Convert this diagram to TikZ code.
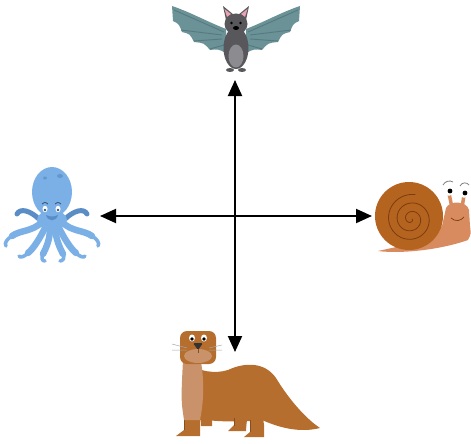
\documentclass[tikz,border=0pt]{standalone}
\usetikzlibrary{arrows.meta,calc}
\definecolor{batwing}{HTML}{6B9297}
\definecolor{batbone}{HTML}{557A7F}
\definecolor{batbody}{HTML}{58585C}
\definecolor{batbelly}{HTML}{8C8C90}
\definecolor{batear}{HTML}{EBA3B4}
\definecolor{octblue}{HTML}{7AB0E6}
\definecolor{octdark}{HTML}{5A8DC6}
\definecolor{shell}{HTML}{B4641F}
\definecolor{shellline}{HTML}{7A3C10}
\definecolor{snailbody}{HTML}{D88B5E}
\definecolor{otterbrown}{HTML}{B56E2D}
\definecolor{ottertan}{HTML}{C9926A}
\definecolor{otterline}{HTML}{8A4E1B}
\tikzset{
  link/.style={line width=2pt, -{Triangle[length=16pt,width=14pt]}},
  tentacle/.style={line width=6.5pt, line cap=round, octblue},
  tip/.style={line width=3.5pt, line cap=round, octblue},
  backtentacle/.style={line width=5pt, line cap=round, octdark},
}
\begin{document}
\begin{tikzpicture}[x=1pt,y=-1pt]
    \useasboundingbox (0,0) rectangle (471,444);

    % bat
    \begin{scope}[xshift=236pt]
        \foreach \s in {1,-1} {
            \begin{scope}[xscale=\s]
                \fill[batwing] (-10,29) .. controls (-28,22) and (-46,12) .. (-64,6) -- (-63,21) .. controls (-57,24) .. (-54,32) .. controls (-46,34) .. (-42,42) .. controls (-32,43) .. (-26,50) .. controls (-18,49) .. (-10,53) -- cycle;
                \draw[batbone, line width=0.9pt] (-12,32) -- (-62,10) (-14,35) -- (-55,30) (-14,39) -- (-42,41) (-12,45) -- (-26,49);
                \fill[batbody] (-10,20) -- (-13,6) -- (-2,15) -- cycle;
                \fill[batear] (-9,17) -- (-11.5,9) -- (-5,14) -- cycle;
                \fill[batbody] (-6,70) ellipse [x radius=4, y radius=2];
                \fill[white] (-3.5,31) -- (-1,31) -- (-2.2,35) -- cycle;
            \end{scope}
        }
        \fill[batbody] (0,48) ellipse [x radius=12.5, y radius=21];
        \fill[batbody] (0,24) ellipse [x radius=11.5, y radius=10.5];
        \fill[batbelly] (0,56) ellipse [x radius=7.5, y radius=11.5];
        \fill[black] (-4.5,23) circle (1.3) (4.5,23) circle (1.3);
        \fill[black] (0,28) ellipse [x radius=3, y radius=2];
    \end{scope}

    % octopus
    \draw[backtentacle] (40,220) .. controls (30,210) and (20,208) .. (17,214);
    \draw[backtentacle] (64,220) .. controls (74,210) and (84,208) .. (87,214);
    \draw[tentacle] (42,222) .. controls (32,232) and (20,230) .. (12,236);
    \draw[tip] (12,236) .. controls (7,239) and (4,243) .. (6,246);
    \draw[tentacle] (46,226) .. controls (40,238) and (34,248) .. (28,253);
    \draw[tip] (28,253) .. controls (24,257) and (20,258) .. (19,256);
    \draw[tentacle] (50,228) .. controls (50,240) and (46,248) .. (43,254);
    \draw[tip] (43,254) .. controls (41,258) and (42,261) .. (45,261);
    \draw[tentacle] (55,228) .. controls (56,240) and (60,248) .. (63,254);
    \draw[tip] (63,254) .. controls (65,258) and (63,261) .. (60,261);
    \draw[tentacle] (58,226) .. controls (64,238) and (70,248) .. (76,253);
    \draw[tip] (76,253) .. controls (80,257) and (84,258) .. (85,256);
    \draw[tentacle] (62,222) .. controls (72,232) and (84,230) .. (92,236);
    \draw[tip] (92,236) .. controls (97,239) and (100,243) .. (98,246);
    \fill[octblue] (52,192) ellipse [x radius=20, y radius=25];
    \fill[octblue] (52,220) ellipse [x radius=15, y radius=10];
    \fill[octdark!70!octblue] (60,176) ellipse [x radius=3, y radius=2] (45,178) ellipse [x radius=2, y radius=1.5];
    \fill[white] (45,209) ellipse [x radius=2.5, y radius=3.2] (58,209) ellipse [x radius=2.5, y radius=3.2];
    \fill[octdark!60!black] (45,210) circle (1.4) (58,210) circle (1.4);
    \draw[octdark!60!black, line width=0.8pt] (42,204) .. controls (45,202) .. (48,204) (55,204) .. controls (58,202) .. (61,204);
    \fill[octdark] (46,215) .. controls (48,222) and (56,222) .. (58,215) .. controls (54,217) and (50,217) .. (46,215) -- cycle;

    % snail
    \fill[snailbody] (378,251) .. controls (400,254) and (440,250) .. (468,240) .. controls (471,234) .. (470,226) -- (469,210) .. controls (467,201) and (450,200) .. (446,208) -- (442,226) .. controls (430,235) .. (410,244) -- cycle;
    \draw[snailbody, line width=3.5pt, line cap=round] (452,208) -- (449,193) (462,208) -- (464,195);
    \fill[white] (449,191) circle (4.8) (464,193) circle (4.8);
    \fill[black] (450,191) circle (2.4) (465,193) circle (2.4);
    \draw[gray, line width=0.8pt] (443,185) .. controls (445,181) and (450,180) .. (453,182) (460,186) .. controls (462,182) and (467,182) .. (469,185);
    \draw[shellline, line width=0.7pt] (451,218) .. controls (455,222) and (461,221) .. (464,217);
    \fill[shell] (409,216) circle (34);
    \draw[shellline, line width=0.8pt] plot[domain=0:1000, samples=120, smooth] ({411+(1+\x/42)*cos(\x)}, {219+(1+\x/42)*sin(\x)});

    % otter
    \fill[otterbrown] (236,412) -- (234,428) -- (246,428) -- (248,412) -- cycle;
    \fill[otterbrown] (228,431) -- (246,431) -- (246,425) -- (234,425) -- cycle;
    \fill[otterbrown] (200,410) -- (201,426) -- (212,426) -- (212,410) -- cycle;
    \fill[otterbrown] (184,362) .. controls (200,372) and (215,374) .. (228,370) .. controls (245,362) and (265,362) .. (276,378) .. controls (288,398) and (305,418) .. (320,428) .. controls (300,433) and (280,428) .. (262,420) .. controls (245,422) and (225,422) .. (205,420) -- (184,420) -- cycle;
    \fill[otterbrown] (250,410) -- (250,432) -- (244,437) -- (264,437) -- (264,425) -- (262,410) -- cycle;
    \fill[otterbrown] (184,415) -- (184,430) -- (176,436) -- (200,436) -- (200,415) -- cycle;
    \draw[otterline, line width=0.5pt] (250,420) -- (250,432) (184,420) -- (184,430) (234,418) -- (234,426);
    \fill[ottertan] (183,360) -- (201,362) .. controls (205,385) and (203,405) .. (200,420) -- (184,420) .. controls (181,400) .. (183,360) -- cycle;
    \fill[otterbrown, rounded corners=7pt] (180,331) rectangle (216,364);
    \fill[ottertan] (198,356) ellipse [x radius=14, y radius=7];
    \fill[white] (192,338) ellipse [x radius=3, y radius=3.5] (204,338) ellipse [x radius=3, y radius=3.5];
    \fill[black] (192,339) circle (1.8) (204,339) circle (1.8);
    \fill[black!80, rounded corners=1.5pt] (193,343) -- (203,343) -- (198,350) -- cycle;
    \draw[otterline, line width=0.6pt] (198,349) -- (198,353);
    \draw[gray!70, line width=0.5pt] (187,348) -- (172,344) (187,350) -- (172,350) (209,348) -- (222,345) (209,350) -- (222,350);

    % arrows
    \coordinate (hub) at (235,216);
    \coordinate (batend) at (235,80);
    \coordinate (octend) at (100,216);
    \coordinate (snailend) at (372,216);
    \coordinate (otterend) at (235,352);
    \draw[link] (hub) -- (batend);
    \draw[link] (hub) -- (octend);
    \draw[link] (hub) -- (snailend);
    \draw[link] (hub) -- (otterend);
\end{tikzpicture}
\end{document}
